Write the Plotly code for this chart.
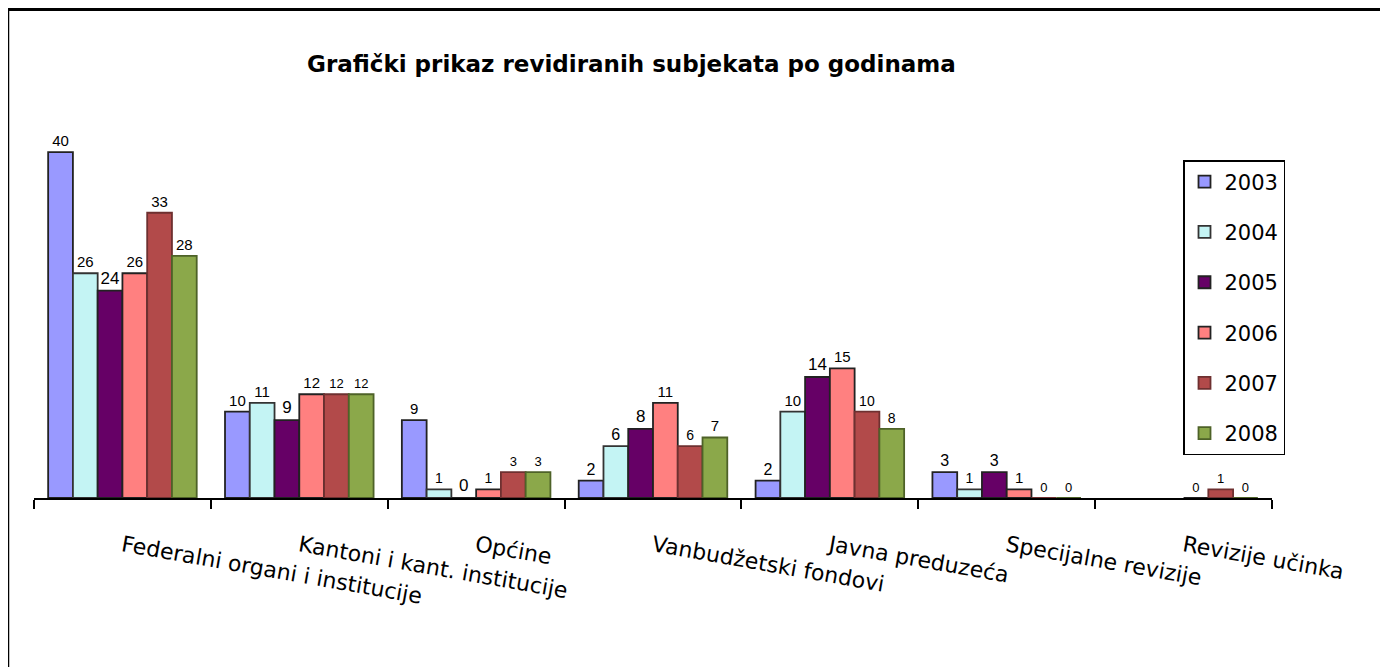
import plotly.graph_objects as go

categories = ["Federalni organi i institucije", "Kantoni i kant. institucije", "Općine",
              "Vanbudžetski fondovi", "Javna preduzeća", "Specijalne revizije", "Revizije učinka"]
years = ["2003", "2004", "2005", "2006", "2007", "2008"]
v2003 = [40, 10, 9, 2, 2, 3, None]
v2004 = [26, 11, 1, 6, 10, 1, None]
v2005 = [24, 9, 0, 8, 14, 3, None]
v2006 = [26, 12, 1, 11, 15, 1, 0]
v2007 = [33, 12, 3, 6, 10, 0, 1]
v2008 = [28, 12, 3, 7, 8, 0, 0]
series = [v2003, v2004, v2005, v2006, v2007, v2008]

colors = ["#9999FF", "#C4F4F4", "#660066", "#FF8080", "#B24A4A", "#8BA84A"]
line_colors = ["#222222", "#333333", "#222222", "#222222", "#6E3030", "#4E6228"]
# label font sizes per series/category (style only)
label_sizes = [
    [15, 15, 15, 16, 16, 16, 13],
    [15, 15, 14, 16, 15, 14, 13],
    [17, 17, 17, 17, 17, 16, 13],
    [15, 15, 14, 15, 15, 15, 13],
    [15, 13, 13, 14, 14, 13, 13],
    [15, 13, 13, 15, 14, 13, 13],
]

OFF = 8  # page body margin
W, H = 1388 - OFF, 667 - OFF
# plot area in reference (page) pixels
L, R_PX, T, B_PX = 34, 1272, 109, 498

fig = go.Figure()
for i, (y, vals) in enumerate(zip(years, series)):
    fig.add_trace(go.Bar(
        name=y, x=categories, y=vals,
        marker=dict(color=colors[i], line=dict(color=line_colors[i], width=1.8)),
        text=[("" if v is None else str(v)) for v in vals],
        textposition="outside",
        constraintext="none",
        textfont=dict(family="Liberation Sans, Arial, sans-serif", color="#000000",
                      size=label_sizes[i]),
        cliponaxis=False,
        legendgroup=y,
    ))

def px_x(p):
    return (p - L) / (R_PX - L)

def px_y(p):
    return (B_PX - p) / (B_PX - T)

fig.update_layout(
    width=W, height=H,
    margin=dict(l=L - OFF, r=W - (R_PX - OFF), t=T - OFF, b=H - (B_PX - OFF), pad=0),
    paper_bgcolor="white", plot_bgcolor="white",
    barmode="group", bargap=0.16, bargroupgap=0.0,
    showlegend=True,
    legend=dict(
        x=px_x(1183), y=px_y(160), xanchor="left", yanchor="top",
        bordercolor="#000000", borderwidth=1.5, bgcolor="white",
        font=dict(family="DejaVu Sans, Verdana, sans-serif", size=21, color="#000000"),
        traceorder="grouped", tracegroupgap=20,
        itemwidth=30,
    ),
    font=dict(family="DejaVu Sans, Verdana, sans-serif", color="#000000"),
    xaxis=dict(
        type="category",
        showline=True, linecolor="#000000", linewidth=1.5,
        ticks="outside", ticklen=9, tickcolor="#000000", tickwidth=1.5,
        tickson="boundaries",
        tickangle=10,
        ticklabelstandoff=25,
        tickfont=dict(family="DejaVu Sans, Verdana, sans-serif", size=22, color="#000000"),
        showgrid=False, zeroline=False,
    ),
    yaxis=dict(
        range=[0, 45], visible=False, showgrid=False, zeroline=False,
    ),
    annotations=[dict(
        text="<b>Grafički prikaz revidiranih subjekata po godinama</b>",
        xref="paper", yref="paper", x=px_x(631), y=px_y(64),
        xanchor="center", yanchor="middle", showarrow=False,
        font=dict(family="DejaVu Sans, Verdana, sans-serif", size=23, color="#000000"),
    )],
    shapes=[
        dict(type="line", xref="paper", yref="paper",
             x0=px_x(8), x1=px_x(1400), y0=px_y(9.5), y1=px_y(9.5),
             line=dict(color="#000000", width=3)),
        dict(type="line", xref="paper", yref="paper",
             x0=px_x(8.5), x1=px_x(8.5), y0=px_y(9), y1=px_y(680),
             line=dict(color="#000000", width=1.5)),
    ],
)

fig.write_html("out.html")
